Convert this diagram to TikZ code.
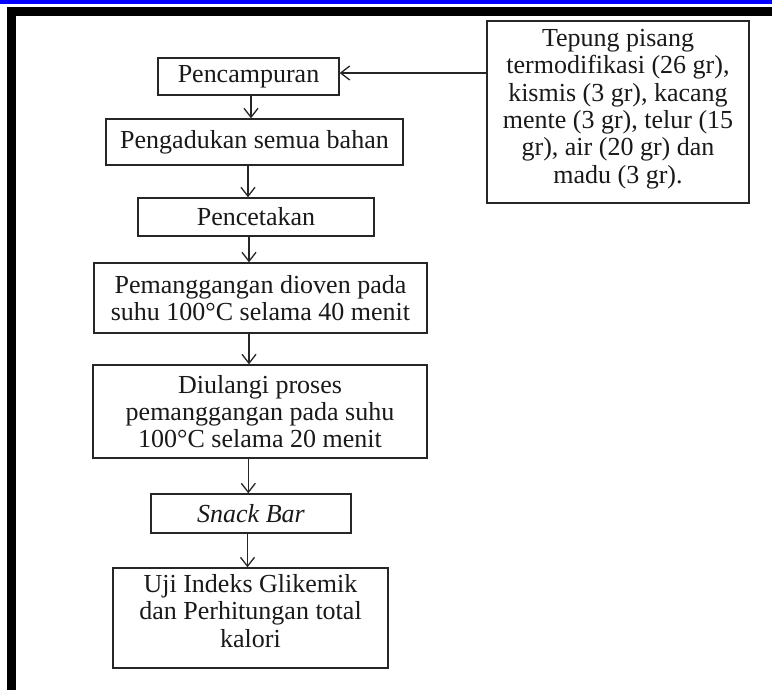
\documentclass[tikz,border=0pt]{standalone}
\usepackage{fontspec}
\setmainfont{Liberation Serif}
\usetikzlibrary{arrows.meta}
\begin{document}
\begin{tikzpicture}[x=1pt,y=1pt,
  box/.style={draw=black!85, line width=1.3pt, rectangle, inner sep=0pt, align=center,
    font=\fontsize{26}{27}\selectfont, text=black!90},
  lbl/.style={align=center, font=\fontsize{26}{27.3}\selectfont, text=black!90, inner sep=0pt},
  arr/.style={draw=black!85, line width=1.3pt, -{Straight Barb[length=9pt,width=14pt]}}]
\useasboundingbox (0,0) rectangle (772,690);
\fill[white] (0,0) rectangle (772,690);
\fill[blue] (0,686) rectangle (772,690);
\fill[black] (7.3,0) rectangle (16,682.7);
\fill[black] (7.3,674) rectangle (772,682.7);

\node[box, minimum width=181pt, minimum height=37pt] (mix) at (248.5,613.5) {Pencampuran};
\node[box, minimum width=297pt, minimum height=46pt] (stir) at (254.5,548) {Pengadukan semua bahan};
\node[box, minimum width=236pt, minimum height=38pt] (mold) at (256,473) {Pencetakan};
\node[box, minimum width=333pt, minimum height=70pt] (bake) at (260.5,392) {Pemanggangan dioven pada\\suhu 100°C selama 40 menit};
\node[box, minimum width=334pt, minimum height=93pt] (rebake) at (260,278.5) {Diulangi proses\\pemanggangan pada suhu\\100°C selama 20 menit};
\node[box, minimum width=200pt, minimum height=39pt] (snack) at (251,176.5) {\textit{Snack Bar}};
\node[box, minimum width=275pt, minimum height=100pt,
  label={[lbl, name=testtext, yshift=7pt]center:Uji Indeks Glikemik\\dan Perhitungan total\\kalori}] (test) at (250.5,72) {};
\node[box, minimum width=262pt, minimum height=182pt,
  label={[lbl, name=bahantext, yshift=3pt]center:Tepung pisang\\termodifikasi (26 gr),\\kismis (3 gr), kacang\\mente (3 gr), telur (15\\gr), air (20 gr) dan\\madu (3 gr).}] (bahan) at (618,578) {};

\coordinate (a0) at ([yshift=3.5pt]mix.east);
\draw[arr] (a0 -| bahan.west) -- (a0);
\coordinate (a1) at ([xshift=2.5pt]mix.south);
\draw[arr] (a1) -- (a1 |- stir.north);
\coordinate (a2) at ([xshift=-6.5pt]stir.south);
\draw[arr] (a2) -- (a2 |- mold.north);
\coordinate (a3) at ([xshift=-7pt]mold.south);
\draw[arr] (a3) -- (a3 |- bake.north);
\coordinate (a4) at ([xshift=-11.5pt]bake.south);
\draw[arr] (a4) -- (a4 |- rebake.north);
\coordinate (a5) at ([xshift=-11.7pt]rebake.south);
\draw[arr] (a5) -- (a5 |- snack.north);
\coordinate (a6) at ([xshift=-3.5pt]snack.south);
\draw[arr] (a6) -- (a6 |- test.north);
\end{tikzpicture}
\end{document}
